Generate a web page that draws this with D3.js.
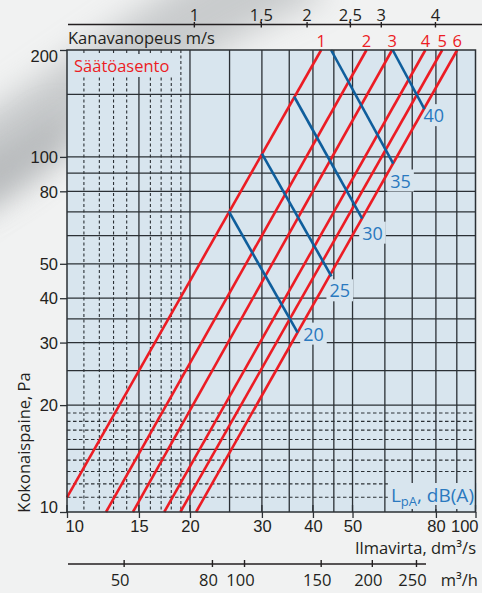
<!DOCTYPE html>
<html><head><meta charset="utf-8">
<script src="https://cdn.jsdelivr.net/npm/d3@7"></script>
<style>
html,body{margin:0;padding:0;background:#f1f2f2;}
svg{display:block;font-family:"Open Sans","DejaVu Sans",sans-serif;}
</style></head><body>
<svg id="c" width="482" height="593"></svg>
<script>
// ---- data ----
const flowTicks = [10, 15, 20, 30, 40, 50, 80, 100];           // dm3/s
const pressureTicks = [10, 20, 30, 40, 50, 80, 100, 200];      // Pa
const gridSolidX = [15, 20, 25, 30, 35, 40, 45, 50, 60, 70, 80, 90];
const gridDashedX = [11, 12, 13, 14, 16, 17, 18, 19];
const gridSolidY = [15, 20, 25, 30, 35, 40, 50, 60, 70, 80, 90, 100, 150];
const gridDashedY = [11, 12, 13, 14, 16, 17, 18, 19];
const velocityLabels = ["1", "1,5", "2", "2,5", "3", "4"];      // m/s
const velocityFlows = [20.5, 29.9, 38.7, 49.4, 58.8, 79.8];     // where they sit, dm3/s
const m3hLabels = ["50", "80", "100", "150", "200", "250"];     // m3/h
const m3hFlows = [13.8, 22.7, 27.2, 41.9, 55.9, 71.7];          // where they sit, dm3/s
const damperPositions = ["1", "2", "3", "4", "5", "6"];
const damperStart = [[10, 11.0], [12.46, 10], [14.5, 10], [17.3, 10], [18.95, 10], [20.7, 10]];
const damperEnd = [[41.9, 200], [54.1, 200], [62.5, 200], [75.4, 200], [82.9, 200], [90.2, 200]];
const soundLevels = ["20", "25", "30", "35", "40"];
const soundStart = [[24.9, 70.2], [30.0, 102.2], [36.0, 147.7], [44.3, 200], [62.7, 200]];
const soundEnd = [[36.7, 32.0], [44.4, 46.1], [52.8, 67.0], [62.9, 95.8], [75.0, 136.3]];

// ---- layout / style ----
const L = 67, R = 475.5, T = 50, B = 512;
const FS = 16.5;
const soundLabelOffset = [[5.5, 8], [-2, 21], [0, 21], [-3, 24], [-1, 13]];
const RED = "#ec1c24", BLUE_LINE = "#0f5e9c", BLUE_TXT = "#2a79bf", INK = "#231f20", GRID = "#2b3035";
const PLOT_BG = "#d8e5ee";

const svg = d3.select("#c");
const x = d3.scaleLog().domain([10, 100]).range([L, R]);
const y = d3.scaleLog().domain([10, 200]).range([B, T]);

// background swoosh
const defs = svg.append("defs");
defs.append("filter").attr("id", "blur").attr("x", "-50%").attr("y", "-50%").attr("width", "200%").attr("height", "200%")
  .append("feGaussianBlur").attr("stdDeviation", 16);
svg.append("rect").attr("width", 482).attr("height", 593).attr("fill", "#f1f2f2");
svg.append("path")
  .attr("d", "M-60,240 C 20,190 150,70 330,-5 L 260,-60 C 120,10 20,100 -60,140 Z")
  .attr("fill", "#b8bbbd").attr("opacity", 0.7).attr("filter", "url(#blur)");
svg.append("path")
  .attr("d", "M-30,215 C 10,195 40,175 70,145 L 60,110 C 30,135 0,155 -30,165 Z")
  .attr("fill", "#a9acae").attr("opacity", 0.6).attr("filter", "url(#blur)");

// plot background
svg.append("rect").attr("x", L).attr("y", T).attr("width", R - L).attr("height", B - T).attr("fill", PLOT_BG);

const gGrid = svg.append("g");
const gMask = svg.append("g");
const gCurves = svg.append("g");
const gText = svg.append("g");

// grid
gGrid.selectAll("line.vs").data(gridSolidX).join("line").attr("class", "vs")
  .attr("x1", d => x(d)).attr("x2", d => x(d)).attr("y1", T).attr("y2", B)
  .attr("stroke", GRID).attr("stroke-width", 1.3);
gGrid.selectAll("line.vd").data(gridDashedX).join("line").attr("class", "vd")
  .attr("x1", d => x(d)).attr("x2", d => x(d)).attr("y1", T).attr("y2", B)
  .attr("stroke", GRID).attr("stroke-width", 1.1).attr("stroke-dasharray", "3,2.5");
gGrid.selectAll("line.hs").data(gridSolidY).join("line").attr("class", "hs")
  .attr("y1", d => y(d)).attr("y2", d => y(d)).attr("x1", L).attr("x2", R)
  .attr("stroke", GRID).attr("stroke-width", 1.3);
gGrid.selectAll("line.hd").data(gridDashedY).join("line").attr("class", "hd")
  .attr("y1", d => y(d)).attr("y2", d => y(d)).attr("x1", L).attr("x2", R)
  .attr("stroke", GRID).attr("stroke-width", 1.1).attr("stroke-dasharray", "3.5,2.5");

function masked(sel, padX, padY) {
  sel.each(function () {
    const b = this.getBBox();
    gMask.append("rect").attr("x", b.x - padX).attr("y", b.y - padY)
      .attr("width", b.width + 2 * padX).attr("height", b.height + 2 * padY).attr("fill", PLOT_BG);
  });
}

// labels inside plot with background
const saato = gText.append("text").attr("x", 74).attr("y", 72).attr("font-size", FS).attr("fill", RED).text("Säätöasento");
masked(saato, 4, 0);

const lpa = gText.append("text").attr("x", 474).attr("y", 502).attr("text-anchor", "end").attr("font-size", 19).attr("fill", BLUE_TXT);
lpa.append("tspan").text("L");
lpa.append("tspan").attr("font-size", 13).attr("dy", 4).text("pA");
lpa.append("tspan").attr("dy", -4).text(", dB(A)");
masked(lpa, 3, -1);

// bottom inner ticks (visible under LpA label)
gMask.selectAll("line.it").data(flowTicks).join("line").attr("class", "it")
  .attr("x1", d => x(d)).attr("x2", d => x(d)).attr("y1", B - 7).attr("y2", B)
  .attr("stroke", GRID).attr("stroke-width", 1.3);

// sound level labels
const sLab = gText.selectAll("text.sl").data(soundLevels).join("text").attr("class", "sl")
  .attr("x", (d, i) => x(soundEnd[i][0]) + soundLabelOffset[i][0])
  .attr("y", (d, i) => y(soundEnd[i][1]) + soundLabelOffset[i][1])
  .attr("font-size", 18).attr("fill", BLUE_TXT).text(d => d);
masked(sLab, 3, -1);

// damper curves
gCurves.selectAll("line.dc").data(damperPositions).join("line").attr("class", "dc")
  .attr("x1", (d, i) => x(damperStart[i][0])).attr("y1", (d, i) => y(damperStart[i][1]))
  .attr("x2", (d, i) => x(damperEnd[i][0])).attr("y2", (d, i) => y(damperEnd[i][1]))
  .attr("stroke", RED).attr("stroke-width", 2.6);
// sound lines
gCurves.selectAll("line.sd").data(soundLevels).join("line").attr("class", "sd")
  .attr("x1", (d, i) => x(soundStart[i][0])).attr("y1", (d, i) => y(soundStart[i][1]))
  .attr("x2", (d, i) => x(soundEnd[i][0])).attr("y2", (d, i) => y(soundEnd[i][1]))
  .attr("stroke", BLUE_LINE).attr("stroke-width", 2.6);

// plot border
svg.append("rect").attr("x", L).attr("y", T).attr("width", R - L).attr("height", B - T)
  .attr("fill", "none").attr("stroke", GRID).attr("stroke-width", 1.5);

// damper position labels
svg.selectAll("text.dp").data(damperPositions).join("text").attr("class", "dp")
  .attr("x", (d, i) => x(damperEnd[i][0])).attr("y", 47).attr("text-anchor", "middle")
  .attr("font-size", FS).attr("fill", RED).text(d => d);

// left axis
const ya = svg.append("g").attr("transform", `translate(${L},0)`)
  .call(d3.axisLeft(y).tickValues(pressureTicks).tickSize(7).tickPadding(2).tickFormat(d3.format("d")));
ya.select(".domain").remove();
ya.selectAll("line").attr("stroke", GRID).attr("stroke-width", 1.3);
ya.selectAll("text").attr("font-size", FS).attr("fill", INK).attr("font-family", null)
  .attr("dy", d => d === 200 ? "0.72em" : d === 10 ? "0.02em" : "0.35em");

// bottom axis
const xa = svg.append("g").attr("transform", `translate(0,${B})`)
  .call(d3.axisBottom(x).tickValues(flowTicks).tickSize(6).tickPadding(2.5).tickFormat(d3.format("d")));
xa.select(".domain").remove();
xa.selectAll("line").attr("stroke", GRID).attr("stroke-width", 1.3);
xa.selectAll("text").attr("font-size", FS).attr("fill", INK).attr("font-family", null)
  .attr("text-anchor", (d, i) => i === 0 ? "start" : i === flowTicks.length - 1 ? "end" : "middle")
  .attr("dx", (d, i) => i === 0 ? -2 : i === flowTicks.length - 1 ? 2.5 : 0);

// top velocity axis
const va = svg.append("g").attr("transform", "translate(0,24.5)");
va.append("line").attr("x1", 68).attr("x2", 482).attr("stroke", INK).attr("stroke-width", 1.4);
va.selectAll("line.t").data(velocityFlows).join("line").attr("class", "t")
  .attr("x1", d => x(d)).attr("x2", d => x(d)).attr("y1", -2.5).attr("y2", 3)
  .attr("stroke", INK).attr("stroke-width", 1.4);
va.selectAll("text").data(velocityLabels).join("text")
  .attr("x", (d, i) => x(velocityFlows[i])).attr("y", -3.5).attr("text-anchor", "middle")
  .attr("font-size", FS).attr("fill", INK).text(d => d);
svg.append("text").attr("x", 68).attr("y", 43.5).attr("font-size", FS).attr("fill", INK).text("Kanavanopeus m/s");

// bottom m3/h axis
const ma = svg.append("g").attr("transform", "translate(0,564)");
ma.append("line").attr("x1", 68).attr("x2", 426).attr("stroke", INK).attr("stroke-width", 1.4);
ma.selectAll("line.t").data(m3hFlows).join("line").attr("class", "t")
  .attr("x1", d => x(d)).attr("x2", d => x(d)).attr("y1", -4).attr("y2", 3)
  .attr("stroke", INK).attr("stroke-width", 1.4);
ma.selectAll("text").data(m3hLabels).join("text")
  .attr("x", (d, i) => x(m3hFlows[i]) - 4).attr("y", 22).attr("text-anchor", "middle")
  .attr("font-size", FS).attr("fill", INK).text(d => d);
svg.append("text").attr("x", 478).attr("y", 586).attr("text-anchor", "end").attr("font-size", FS).attr("fill", INK).text("m³/h");

// axis titles
svg.append("text").attr("x", 476).attr("y", 554).attr("text-anchor", "end").attr("font-size", FS).attr("fill", INK).text("Ilmavirta, dm³/s");
svg.append("text").attr("transform", "translate(29.5,442.5) rotate(-90)").attr("text-anchor", "middle")
  .attr("font-size", FS).attr("fill", INK).text("Kokonaispaine, Pa");
</script>
</body></html>
